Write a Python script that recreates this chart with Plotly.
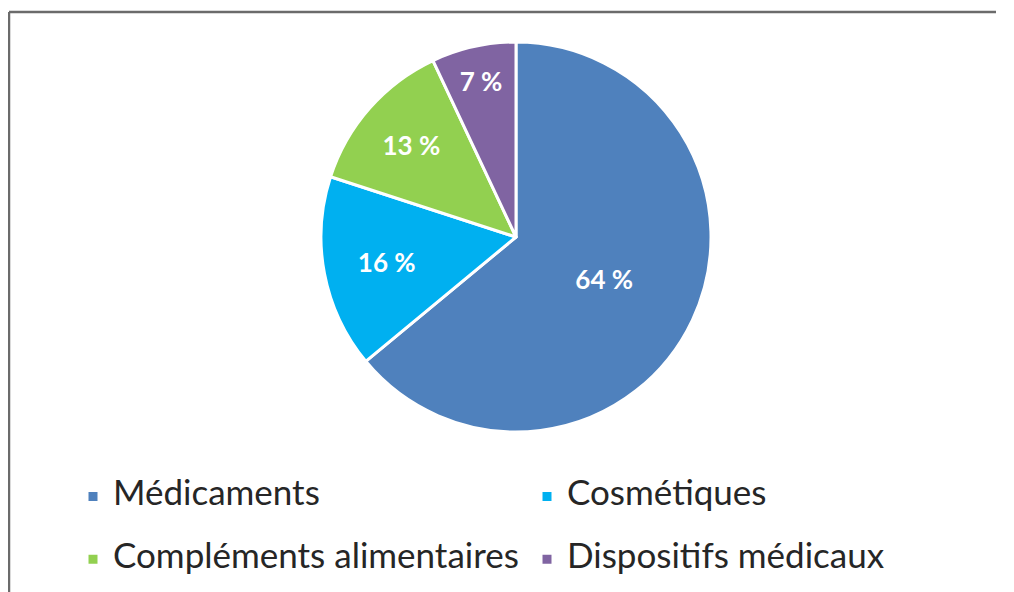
import plotly.graph_objects as go

labels = ["Médicaments", "Cosmétiques", "Compléments alimentaires", "Dispositifs médicaux"]
values = [64, 16, 13, 7]
colors = ["#4F81BD", "#00B0F0", "#92D050", "#8064A2"]

OFF = 8  # page body margin offset in the browser
W, H = 1014 - OFF, 592 - OFF

def px_x(x):
    return (x - OFF) / W

def px_y(y):
    return 1 - (y - OFF) / H

legend_labels = ['<span style="font-size:35px">%s</span><br> ' % s for s in labels]

fig = go.Figure(go.Pie(
    labels=legend_labels,
    values=values,
    customdata=labels,
    sort=False,
    direction="clockwise",
    rotation=0,
    marker=dict(colors=colors, line=dict(color="white", width=3)),
    texttemplate="%{value} %",
    textposition="inside",
    insidetextorientation="horizontal",
    textfont=dict(color="white", size=26, family="Lato", weight="bold"),
    domain=dict(x=[px_x(321), px_x(711)], y=[px_y(432), px_y(42)]),
    hovertemplate="%{customdata}: %{value} %<extra></extra>",
))

fig.update_layout(
    width=W, height=H,
    margin=dict(l=0, r=0, t=0, b=0, autoexpand=False),
    paper_bgcolor="white",
    showlegend=True,
    legend=dict(
        orientation="h",
        x=px_x(73), xanchor="left",
        y=px_y(475), yanchor="top",
        entrywidth=409, entrywidthmode="pixels",
        valign="top",
        font=dict(size=23, family="Lato", color="#262626"),
    ),
    shapes=[
        dict(type="line", xref="paper", yref="paper",
             x0=px_x(9), x1=px_x(996), y0=px_y(12), y1=px_y(12),
             line=dict(color="#6b6b6b", width=2.5)),
        dict(type="line", xref="paper", yref="paper",
             x0=px_x(9), x1=px_x(9), y0=px_y(12), y1=-0.02,
             line=dict(color="#6b6b6b", width=2.5)),
    ],
)

fig.write_html("out.html")
